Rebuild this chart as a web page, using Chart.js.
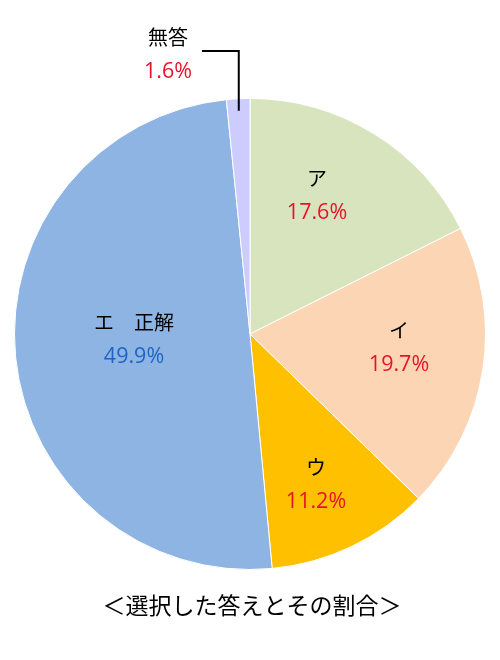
<!DOCTYPE html>
<html>
<head>
<meta charset="utf-8">
<script src="https://cdn.jsdelivr.net/npm/chart.js@4"></script>
<style>
  html, body { margin: 0; padding: 0; background: #fff; }
  #wrap { width: 500px; height: 660px; position: relative; }
</style>
</head>
<body>
<div id="wrap"><canvas id="pieChart" width="500" height="660"></canvas></div>
<script>
// answers, clockwise from 12 o'clock
const categories = ["ア", "イ", "ウ", "エ　正解", "無答"];
const shares = [17.6, 19.7, 11.2, 49.9, 1.6];
const sliceColors = ["#D7E4BD", "#FCD5B5", "#FFC000", "#8EB4E3", "#CCCCFF"];
const valueColors = ["#E8132B", "#E8132B", "#E8132B", "#1F64C4", "#E8132B"];
const chartTitle = "＜選択した答えとその割合＞";

const JP = '"Noto Sans CJK JP", sans-serif';
const NUM = '"Open Sans", "Noto Sans", sans-serif';

// label offsets from the pie centre (px), null = outside label
const labelOffsets = [
  [67, -138],
  [149, 14],
  [66, 151],
  [-116, 6],
  null,
];

const labelPlugin = {
  id: "sliceLabels",
  afterDraw(chart) {
    const ctx = chart.ctx;
    const arcs = chart.getDatasetMeta(0).data;
    const cx = arcs[0].x;
    const cy = arcs[0].y;
    const r = arcs[0].outerRadius;
    ctx.save();
    ctx.textAlign = "center";
    ctx.textBaseline = "middle";

    categories.forEach((name, i) => {
      const pct = shares[i].toFixed(1) + "%";
      let x, y;
      if (labelOffsets[i]) {
        x = cx + labelOffsets[i][0];
        y = cy + labelOffsets[i][1];
      } else {
        x = 168;
        y = 55;
        // leader line down to the slice
        const arc = arcs[i];
        const mid = (arc.startAngle + arc.endAngle) / 2;
        const ex = cx + Math.cos(mid) * (r - 12);
        const ey = cy + Math.sin(mid) * (r - 12);
        ctx.strokeStyle = "#000";
        ctx.lineWidth = 2;
        ctx.beginPath();
        ctx.moveTo(202, 51);
        ctx.lineTo(ex, 51);
        ctx.lineTo(ex, ey);
        ctx.stroke();
      }
      ctx.font = "20px " + JP;
      ctx.fillStyle = "#000";
      ctx.fillText(name, x, y - 18);
      ctx.font = "21.5px " + NUM;
      ctx.fillStyle = valueColors[i];
      ctx.fillText(pct, x, y + 17);
    });

    ctx.font = "23px " + JP;
    ctx.fillStyle = "#000";
    ctx.fillText(chartTitle, 252, 605);
    ctx.restore();
  },
};

new Chart(document.getElementById("pieChart"), {
  type: "pie",
  data: {
    labels: categories,
    datasets: [
      {
        data: shares,
        backgroundColor: sliceColors,
        borderColor: "#fff",
        borderWidth: 1,
      },
    ],
  },
  options: {
    responsive: false,
    animation: false,
    layout: { padding: { top: 98, bottom: 90, left: 14, right: 14 } },
    plugins: {
      legend: { display: false },
      tooltip: { enabled: false },
    },
  },
  plugins: [labelPlugin],
});
</script>
</body>
</html>
